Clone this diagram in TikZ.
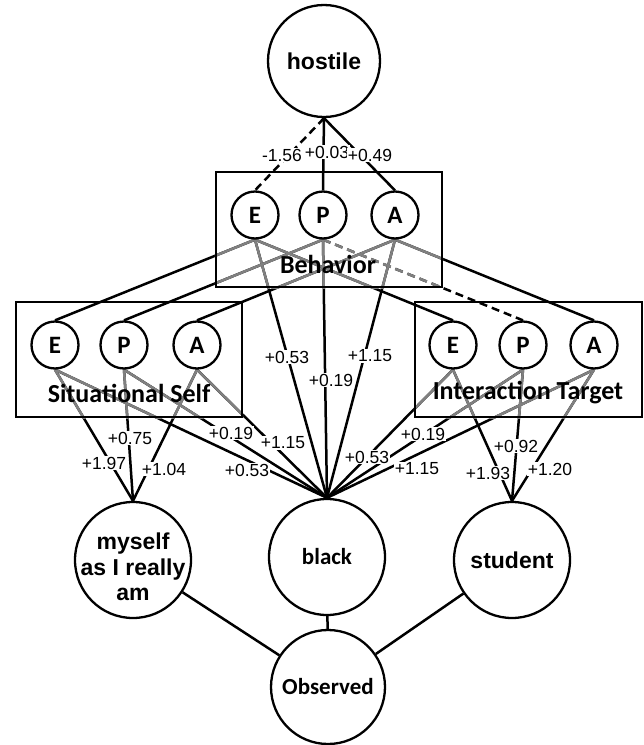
\documentclass[tikz,border=0pt]{standalone}
\usepackage{fontspec}
\setmainfont{Liberation Sans}
\newfontfamily\carl{Carlito}
\pgfdeclarelayer{bg}
\pgfsetlayers{bg,main}
\begin{document}
\begin{tikzpicture}[x=1pt,y=-1pt,
  big/.style={circle,draw,line width=2.3pt,fill=white,minimum size=116pt,inner sep=0pt,align=center,font=\fontsize{23}{26}\selectfont\bfseries},
  bigc/.style={big,font=\fontsize{23}{26}\carl\bfseries},
  epa/.style={circle,draw,line width=2.3pt,fill=white,minimum size=47pt,inner sep=0pt,font=\fontsize{25}{27}\carl\bfseries},
  grp/.style={draw,line width=2.3pt,inner sep=0pt},
  grplabel/.style={font=\fontsize{26}{28}\carl\bfseries,inner sep=0pt},
  lnk/.style={line width=2.5pt},
  dsh/.style={dash pattern=on 8pt off 5pt},
  gry/.style={draw=black!50},
  lbl/.style={font=\fontsize{17.5}{19}\selectfont,fill=white,inner sep=0.5pt},
  bigtext/.style={align=center,inner sep=0pt,font=\fontsize{23}{25.5}\selectfont\bfseries},
]
\useasboundingbox (0,0) rectangle (644,745);

% boxes
\node[grp,minimum width=226pt,minimum height=115pt] (behbox) at (329,229.5) {};
\node[grp,minimum width=226pt,minimum height=115pt] (selfbox) at (129,359.5) {};
\node[grp,minimum width=227pt,minimum height=115pt] (tgtbox) at (528.5,359.5) {};

% big nodes
\node[big,minimum size=112pt] (hostile) at (324,61) {hostile};
\node[big] (myself) at (133,560) {};
\node[bigtext] (myselftxt) at (133,567) {myself\\as I really\\am};
\node[bigc] (black) at (327,557) {black};
\node[big] (student) at (512,560) {student};
\node[bigc,minimum size=114pt] (obs) at (328,687) {Observed};

% EPA nodes
\node[epa] (bE) at (255,215) {E};
\node[epa] (bP) at (323,215) {P};
\node[epa] (bA) at (395,215) {A};
\node[epa] (sE) at (55,345) {E};
\node[epa] (sP) at (124,345) {P};
\node[epa] (sA) at (197,345) {A};
\node[epa] (tE) at (453,345) {E};
\node[epa] (tP) at (523,345) {P};
\node[epa] (tA) at (594,345) {A};

% box labels
\node[grplabel] (behlab) at (328,264) {Behavior};
\node[grplabel] (selflab) at (129,393) {Situational Self};
\node[grplabel] (tgtlab) at (528,393) {Interaction Target};

\begin{pgfonlayer}{bg}
  % hostile
  \draw[lnk,dsh] (hostile.south) -- (bE.north);
  \draw[lnk] (hostile.south) -- (bP.north);
  \draw[lnk] (hostile.south) -- (bA.north);
  % behavior to self / target
  \draw[lnk] (bE.south) -- (sE.north);
  \draw[lnk] (bP.south) -- (sP.north);
  \draw[lnk] (bA.south) -- (sA.north);
  \draw[lnk] (bE.south) -- (tE.north);
  \draw[lnk,dsh] (bP.south) -- (tP.north);
  \draw[lnk] (bA.south) -- (tA.north);
  % to black
  \foreach \n in {bE,bP,bA,sE,sP,sA,tE,tP,tA}
    \draw[lnk] (\n.south) -- (black.north);
  % to myself / student
  \foreach \n in {sE,sP,sA}
    \draw[lnk] (\n.south) -- (myself.north);
  \foreach \n in {tE,tP,tA}
    \draw[lnk] (\n.south) -- (student.north);
  % observed
  \draw[lnk] (myself) -- (obs);
  \draw[lnk] (black) -- (obs);
  \draw[lnk] (student) -- (obs);

  % grey parts inside boxes
  \begin{scope}
    \clip (behbox.south west) rectangle (behbox.north east);
    \draw[lnk,gry] (bE.south) -- (sE.north);
    \draw[lnk,gry] (bP.south) -- (sP.north);
    \draw[lnk,gry] (bA.south) -- (sA.north);
    \draw[lnk,gry] (bE.south) -- (tE.north);
    \draw[lnk,gry,dsh] (bP.south) -- (tP.north);
    \draw[lnk,gry] (bA.south) -- (tA.north);
    \foreach \n in {bE,bP,bA}
      \draw[lnk,gry] (\n.south) -- (black.north);
  \end{scope}
  \begin{scope}
    \clip (selfbox.south west) rectangle (selfbox.north east);
    \foreach \n in {sE,sP,sA}{
      \draw[lnk,gry] (\n.south) -- (black.north);
      \draw[lnk,gry] (\n.south) -- (myself.north);}
  \end{scope}
  \begin{scope}
    \clip (tgtbox.south west) rectangle (tgtbox.north east);
    \foreach \n in {tE,tP,tA}{
      \draw[lnk,gry] (\n.south) -- (black.north);
      \draw[lnk,gry] (\n.south) -- (student.north);}
  \end{scope}
\end{pgfonlayer}

% weights
\node[lbl] (w1) at (282,155) {-1.56};
\node[lbl] (w2) at (327,152) {+0.03};
\node[lbl] (w3) at (370,155) {+0.49};
\node[lbl] (w4) at (287,357) {+0.53};
\node[lbl] (w5) at (331,380) {+0.19};
\node[lbl] (w6) at (370,356) {+1.15};
\node[lbl] (w7) at (231,433) {+0.19};
\node[lbl] (w8) at (283,443) {+1.15};
\node[lbl] (w9) at (247,470) {+0.53};
\node[lbl] (w10) at (130,438) {+0.75};
\node[lbl] (w11) at (104,463) {+1.97};
\node[lbl] (w12) at (164,469) {+1.04};
\node[lbl] (w13) at (423,434) {+0.19};
\node[lbl] (w14) at (367,457) {+0.53};
\node[lbl] (w15) at (417,469) {+1.15};
\node[lbl] (w16) at (516,446) {+0.92};
\node[lbl] (w17) at (488,473) {+1.93};
\node[lbl] (w18) at (550,469) {+1.20};
\end{tikzpicture}
\end{document}
